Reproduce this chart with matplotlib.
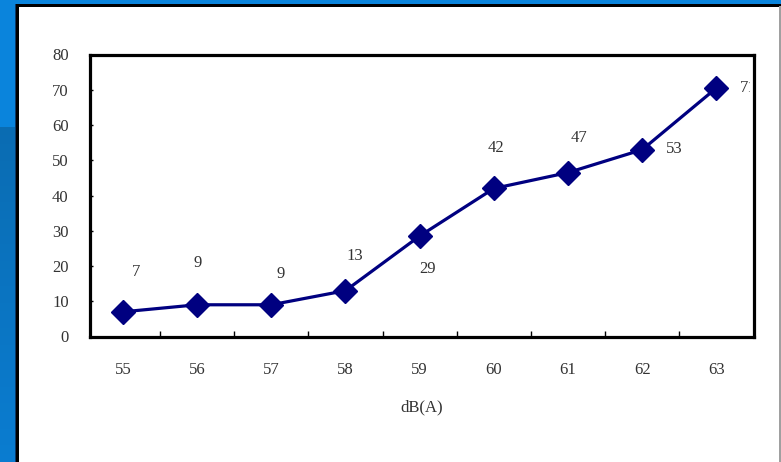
import numpy as np
import matplotlib.pyplot as plt
from matplotlib.patches import Rectangle
from matplotlib.transforms import Bbox

# data
categories = ['55', '56', '57', '58', '59', '60', '61', '62', '63']
values = [7, 9, 9, 13, 28.5, 42, 46.5, 53, 70.5]
point_labels = ['7', '9', '9', '13', '29', '42', '47', '53', '71']
yticks = [0, 10, 20, 30, 40, 50, 60, 70, 80]
xlabel = 'dB(A)'

# label offsets in pixels (dx, dy), screen up positive
label_offsets = [(13, 40), (1, 42), (9, 31), (9, 35), (8, -33),
                 (2, 40), (11, 35), (32, 1), (32, 0)]

W, H = 781, 462
fig = plt.figure(figsize=(W / 100, H / 100), dpi=100, facecolor='white')
plt.rcParams['font.family'] = ['Liberation Serif', 'DejaVu Serif']
txt = '#333333'
fs = 12

def px(x, y, w, h, **kw):
    # rectangle in pixel coords, y from top
    fig.patches.append(Rectangle((x / W, 1 - (y + h) / H), w / W, h / H,
                                 transform=fig.transFigure, figure=fig, **kw))

# blue frame pieces
px(0, 0, W, 4, color='#0a84dc', lw=0)
px(0, 0, 15, 127, color='#0a84dc', lw=0)
n = 40
for i in range(n):
    t = i / (n - 1)
    c = np.array([0x0a, 0x6c, 0xb2]) * (1 - t) + np.array([0x0a, 0x7c, 0xd0]) * t
    px(0, 127 + i * (H - 127) / n, 15, (H - 127) / n + 1, color=c / 255, lw=0)
px(15, 4, 1.2, H, color='#0a3a6a', lw=0)
px(16, 4, 2.5, H, color='black', lw=0)
px(16, 4, W, 2.5, color='black', lw=0)
px(779, 6, 1.5, H, color='#a0a0a0', lw=0)

ax = fig.add_axes([89.5 / W, 1 - 336.5 / H, 664 / W, 282 / H])
x = np.arange(len(categories))
ax.plot(x, values, color='#000080', lw=2.3, marker='D', ms=12.5,
        markeredgecolor='#000080', zorder=3, clip_on=False)

# the last label runs under the plot border in the original
bb = ax.bbox
clip = Bbox.from_extents(bb.x0, bb.y0, bb.x1 - 4, bb.y1)
for xi, v, lab, (dx, dy) in zip(x, values, point_labels, label_offsets):
    a = ax.annotate(lab, (xi, v), xytext=(dx * 0.72, dy * 0.72), textcoords='offset points',
                    ha='center', va='center', fontsize=fs, color=txt,
                    annotation_clip=False, zorder=2)
    a.set_clip_on(True)
    a.set_clip_box(clip)

ax.set_xlim(-0.45, 8.5)
ax.set_ylim(0, 80)
ax.set_yticks(yticks)
ax.set_xticks(x)
ax.set_xticklabels(categories)
ax.set_xticks(x[:-1] + 0.5, minor=True)
ax.tick_params(axis='x', which='major', length=0, pad=18, labelsize=fs, labelcolor=txt)
ax.tick_params(axis='x', which='minor', direction='in', length=4, width=1)
ax.tick_params(axis='y', direction='in', length=2.5, width=1, pad=15,
               labelsize=fs, labelcolor=txt)
for s in ax.spines.values():
    s.set_linewidth(2.3)
    s.set_zorder(4)
ax.set_xlabel(xlabel, fontsize=fs, color=txt, labelpad=16)

fig.savefig('out.png', dpi=100, facecolor='white')
